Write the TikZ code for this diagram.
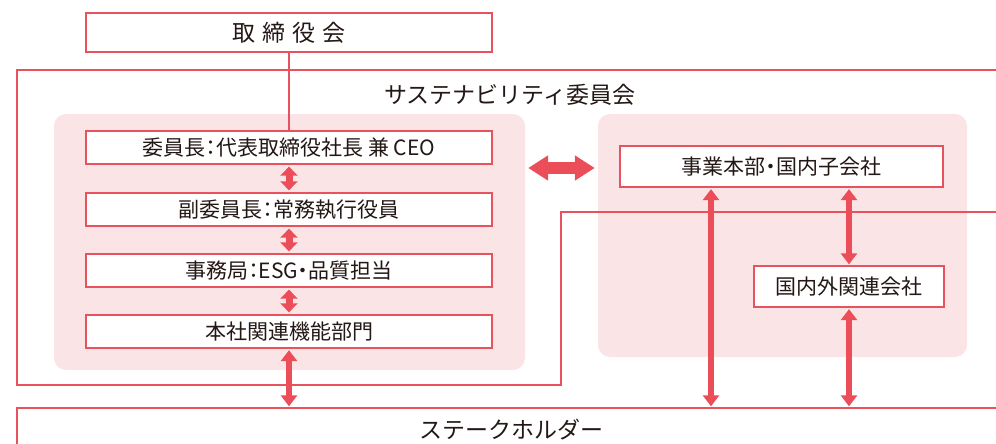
\documentclass[tikz,border=0pt]{standalone}
\usepackage{fontspec}
\setmainfont{Noto Sans CJK JP}
\newfontfamily\boxfont{Noto Sans CJK JP}[RawFeature={+palt}]
\usetikzlibrary{arrows.meta}
\definecolor{lred}{RGB}{232,82,92}
\definecolor{arred}{RGB}{235,78,88}
\definecolor{pinkbg}{RGB}{251,228,230}
\definecolor{ink}{HTML}{231815}
\begin{document}
\begin{tikzpicture}[x=1pt,y=-1pt,
  box/.style={draw=lred,line width=1.3pt,fill=white,inner sep=0pt,text=ink,
    font=\boxfont\fontsize{21pt}{21pt}\selectfont},
  titletext/.style={text=ink,inner sep=0pt,font=\fontsize{23pt}{23pt}\selectfont},
  panel/.style={fill=pinkbg,rounded corners=12pt,inner sep=0pt},
  conn/.style={draw=lred,line width=1.3pt},
  smallarr/.style={draw=arred,line width=7pt,
    {Triangle[width=17pt,length=9pt]}-{Triangle[width=17pt,length=9pt]},
    shorten <=2pt,shorten >=2pt},
  bigarr/.style={draw=arred,line width=12pt,
    {Triangle[width=24pt,length=20pt]}-{Triangle[width=24pt,length=20pt]},
    shorten <=3pt,shorten >=3pt},
  thinarr/.style={draw=arred,line width=5.5pt,
    {Triangle[width=16pt,length=11pt]}-{Triangle[width=16pt,length=11pt]},
    shorten <=1.5pt,shorten >=1pt}
]
\useasboundingbox (0,0) rectangle (996,444);

% background panels
\node[panel,minimum width=471pt,minimum height=256pt] (lp) at (289.5,242) {};
\node[panel,minimum width=369pt,minimum height=243pt] (rp) at (782.5,235.5) {};

% committee frame
\draw[conn] (1010,70) -- (17,70) -- (17,385) -- (561,385) -- (561,212) -- (1010,212);
\node[titletext] (ctitle) at (510,95) {サステナビリティ委員会};

% stakeholder box (extends beyond the page)
\node[draw=lred,line width=1.3pt,minimum width=988pt,minimum height=44pt,inner sep=0pt,
  text=ink,font=\fontsize{23pt}{23pt}\selectfont] (stake) at (511,430) {ステークホルダー};

% board
\node[box,minimum width=406pt,minimum height=39pt,font=\fontsize{23pt}{23pt}\selectfont]
  (board) at (289,32.5) {取\kern7pt締\kern7pt役\kern7pt会};

% left boxes
\node[box,minimum width=406pt,minimum height=33pt] (chair) at (289,147.5) {委員長：代表取締役社長 兼 CEO};
\node[box,minimum width=406pt,minimum height=33pt] (vice) at (289,209.5) {副委員長：常務執行役員};
\node[box,minimum width=406pt,minimum height=33pt] (sec) at (289,270.5) {事務局：ESG・品質担当};
\node[box,minimum width=406pt,minimum height=33pt] (hq) at (289,331.5) {本社関連機能部門};

% right boxes
\node[box,minimum width=323pt,minimum height=41pt] (biz) at (781.5,166.5) {事業本部・国内子会社};
\node[box,minimum width=190pt,minimum height=41pt] (affil) at (849,286.5) {国内外関連会社};

% connectors
\draw[conn] (board.south) -- (chair.north);
\draw[smallarr] (chair.south) -- (vice.north);
\draw[smallarr] (vice.south) -- (sec.north);
\draw[smallarr] (sec.south) -- (hq.north);
\draw[thinarr,line width=6pt] (hq.south) -- (hq.south |- stake.north);
\draw[bigarr] (lp.east |- 0,168) -- (rp.west |- 0,168);
\draw[thinarr] ([xshift=-70.5pt]biz.south) -- ([xshift=-70.5pt]biz.south |- stake.north);
\draw[thinarr] (biz.south -| affil.north) -- (affil.north);
\draw[thinarr] (affil.south) -- (affil.south |- stake.north);
\end{tikzpicture}
\end{document}
